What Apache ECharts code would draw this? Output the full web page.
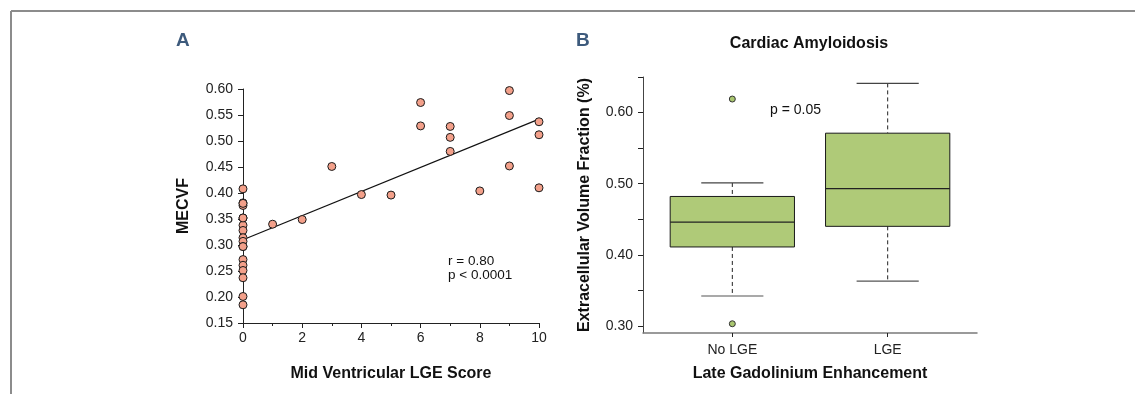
<!DOCTYPE html>
<html>
<head>
<meta charset="utf-8">
<script src="https://cdn.jsdelivr.net/npm/echarts@6/dist/echarts.min.js"></script>
<style>
  html, body { margin: 0; padding: 0; background: #fff; }
  #main { width: 1135px; height: 394px; }
</style>
</head>
<body>
<div id="main"></div>
<script>
// panel A: LGE score vs MECVF
var lgeScore = [0, 0, 0, 0, 0, 0, 0, 0, 0, 0, 0, 0, 0, 0, 0, 0, 0, 0,
                1, 2, 3, 4, 5, 6, 6, 7, 7, 7, 8, 9, 9, 9, 10, 10, 10];
var mecvf = [0.408, 0.381, 0.376, 0.352, 0.338, 0.328, 0.314, 0.307, 0.297, 0.272, 0.261, 0.251, 0.237, 0.201, 0.185, 0.380, 0.352, 0.297,
             0.340, 0.349, 0.451, 0.397, 0.396, 0.574, 0.529, 0.528, 0.507, 0.480, 0.404, 0.597, 0.549, 0.452, 0.537, 0.512, 0.410];
var fitLine = [[0, 0.310], [10, 0.542]];

// panel B: box plot, amyloidosis
var groups = ['No LGE', 'LGE'];
// [min, q1, median, q3, max]
var boxStats = [
    [0.342, 0.411, 0.446, 0.482, 0.501],
    [0.363, 0.440, 0.493, 0.571, 0.641]
];
var outliers = [[1, 0.619], [1, 0.303]];

var labelFont = 'Liberation Sans, Arial, sans-serif';
var dark = '#222';

var points = lgeScore.map(function (x, i) { return [x, mecvf[i]]; });
var boxData = boxStats.map(function (s, i) { return [i + 1].concat(s); });

var chart = echarts.init(document.getElementById('main'));
chart.setOption({
    animation: false,
    textStyle: { fontFamily: labelFont },
    grid: [
        { left: 243, top: 89, width: 296, height: 234 },
        { left: 643, top: 77, width: 334, height: 256 }
    ],
    xAxis: [
        {
            gridIndex: 0, type: 'value', min: 0, max: 10, interval: 2,
            name: 'Mid Ventricular LGE Score', nameLocation: 'middle', nameGap: 43,
            nameTextStyle: { fontSize: 16, fontWeight: 'bold', color: '#111' },
            axisLine: { lineStyle: { color: dark, width: 1 } },
            axisTick: { length: 5, lineStyle: { color: dark } },
            minorTick: { show: true, splitNumber: 2, length: 3, lineStyle: { color: dark } },
            axisLabel: { fontSize: 14, color: dark, margin: 8 },
            splitLine: { show: false }
        },
        {
            gridIndex: 1, type: 'value', min: 0.425, max: 2.575,
            name: 'Late Gadolinium Enhancement', nameLocation: 'middle', nameGap: 33,
            nameTextStyle: { fontSize: 16, fontWeight: 'bold', color: '#111' },
            axisLine: { lineStyle: { color: '#7a7a7a', width: 1.5 } },
            axisTick: { length: 4, customValues: [1, 2], lineStyle: { color: dark } },
            axisLabel: {
                fontSize: 14, color: dark, margin: 10, customValues: [1, 2],
                formatter: function (v) { return groups[Math.round(v) - 1]; }
            },
            splitLine: { show: false }
        }
    ],
    yAxis: [
        {
            gridIndex: 0, type: 'value', min: 0.15, max: 0.6, interval: 0.05,
            name: 'MECVF', nameLocation: 'middle', nameGap: 51,
            nameTextStyle: { fontSize: 16, fontWeight: 'bold', color: '#111' },
            axisLine: { show: true, lineStyle: { color: dark, width: 1 } },
            axisTick: { show: true, length: 5, lineStyle: { color: dark } },
            axisLabel: { fontSize: 14, color: dark, margin: 10,
                formatter: function (v) { return v.toFixed(2); } },
            splitLine: { show: false }
        },
        {
            gridIndex: 1, type: 'value', min: 0.29, max: 0.65,
            name: 'Extracellular Volume Fraction (%)', nameLocation: 'middle', nameGap: 50,
            nameTextStyle: { fontSize: 16, fontWeight: 'bold', color: '#111' },
            axisLine: { show: true, lineStyle: { color: '#444', width: 1 } },
            axisTick: { show: true, length: 5, customValues: [0.30, 0.35, 0.40, 0.45, 0.50, 0.55, 0.60, 0.65],
                lineStyle: { color: dark } },
            axisLabel: { fontSize: 14, color: dark, margin: 10, customValues: [0.3, 0.4, 0.5, 0.6],
                formatter: function (v) { return v.toFixed(2); } },
            splitLine: { show: false }
        }
    ],
    series: [
        {
            type: 'line', xAxisIndex: 0, yAxisIndex: 0, data: fitLine,
            symbol: 'none', lineStyle: { color: '#111', width: 1.2 }, z: 2
        },
        {
            type: 'scatter', xAxisIndex: 0, yAxisIndex: 0, data: points, clip: false,
            symbolSize: 8, z: 3,
            itemStyle: { color: '#f3a08a', borderColor: '#1a1a1a', borderWidth: 1, opacity: 1 }
        },
        {
            type: 'custom', xAxisIndex: 1, yAxisIndex: 1, data: boxData, clip: false,
            renderItem: function (params, api) {
                var x = api.value(0);
                var half = api.size([0.4, 0])[0];
                var cap = api.size([0.2, 0])[0];
                var pMin = api.coord([x, api.value(1)]);
                var pQ1 = api.coord([x, api.value(2)]);
                var pMed = api.coord([x, api.value(3)]);
                var pQ3 = api.coord([x, api.value(4)]);
                var pMax = api.coord([x, api.value(5)]);
                var line = { stroke: '#222', lineWidth: 1.2 };
                var dash = { stroke: '#222', lineWidth: 1, lineDash: [4, 3] };
                return {
                    type: 'group',
                    children: [
                        { type: 'line', shape: { x1: pMax[0], y1: pMax[1], x2: pQ3[0], y2: pQ3[1] }, style: dash },
                        { type: 'line', shape: { x1: pQ1[0], y1: pQ1[1], x2: pMin[0], y2: pMin[1] }, style: dash },
                        { type: 'line', shape: { x1: pMax[0] - cap, y1: pMax[1], x2: pMax[0] + cap, y2: pMax[1] }, style: { stroke: '#444', lineWidth: 1.2 } },
                        { type: 'line', shape: { x1: pMin[0] - cap, y1: pMin[1], x2: pMin[0] + cap, y2: pMin[1] }, style: { stroke: '#555', lineWidth: 1.2 } },
                        { type: 'rect', shape: { x: pQ3[0] - half, y: pQ3[1], width: half * 2, height: pQ1[1] - pQ3[1] },
                          style: { fill: '#afca78', stroke: '#1a1a1a', lineWidth: 1 } },
                        { type: 'line', shape: { x1: pMed[0] - half, y1: pMed[1], x2: pMed[0] + half, y2: pMed[1] }, style: line }
                    ]
                };
            }
        },
        {
            type: 'scatter', xAxisIndex: 1, yAxisIndex: 1, data: outliers, clip: false,
            symbolSize: 6,
            itemStyle: { color: '#a9c66f', borderColor: '#333', borderWidth: 1, opacity: 1 }
        }
    ],
    graphic: [
        { type: 'line', shape: { x1: 11, y1: 11, x2: 1135, y2: 11 }, style: { stroke: '#8c8c8c', lineWidth: 2 } },
        { type: 'line', shape: { x1: 11, y1: 11, x2: 11, y2: 394 }, style: { stroke: '#8c8c8c', lineWidth: 2 } },
        { type: 'text', left: 176, top: 31, style: { text: 'A', font: 'bold 19px ' + labelFont, fill: '#3d5a7c' } },
        { type: 'text', left: 576, top: 31, style: { text: 'B', font: 'bold 19px ' + labelFont, fill: '#3d5a7c' } },
        { type: 'text', left: 448, top: 254, style: { text: 'r = 0.80\np < 0.0001', font: '13.5px ' + labelFont, fill: '#111', lineHeight: 14.5 } },
        { type: 'text', left: 770, top: 103, style: { text: 'p = 0.05', font: '14px ' + labelFont, fill: '#111' } },
        { type: 'text', x: 809, y: 36, style: { text: 'Cardiac Amyloidosis', font: 'bold 16px ' + labelFont, fill: '#111', textAlign: 'center' } }
    ]
});
</script>
</body>
</html>
